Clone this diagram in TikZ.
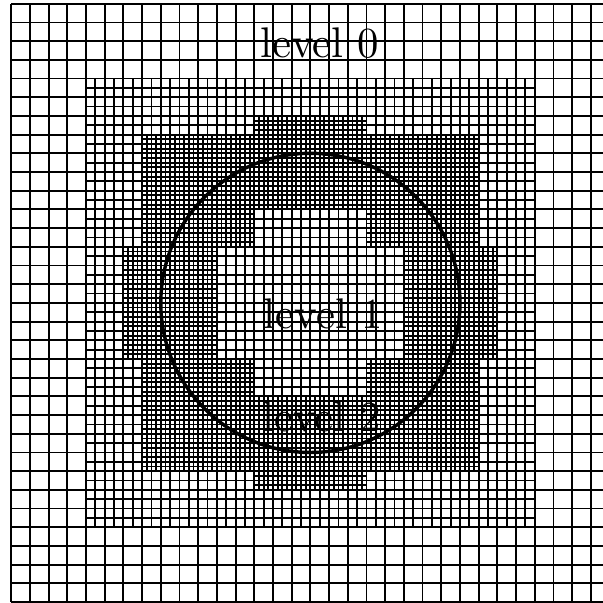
\documentclass[tikz,border=0pt]{standalone}
\usepackage{graphicx}
\usepackage{tikz}
\usetikzlibrary{positioning}

\newcommand{\lvltext}[1]{\scalebox{1.63}{#1}}

\begin{document}
\begin{tikzpicture}[
			x=0.25cm,y=0.25cm,
			mesh/.style={draw=black,line width=0.7pt},
			lvlzero/.style={mesh,step=1},
			lvlone/.style={mesh,step=0.5},
			lvltwo/.style={mesh,step=0.25},
			boundary/.style={draw=black,line width=1.3pt},
			lbl/.style={font=\normalsize,inner sep=0pt}
			]
			\useasboundingbox (-0.6,-0.05) rectangle (31.65,32.2);
			% level 0: whole domain
			\draw[lvlzero] (0,0) grid (32,32);
			% level 1: refined square
			\draw[lvlone] (4,4) grid (28,28);
			% level 2: ring round the circle, the cross in the middle stays at level 1
			\foreach \xa/\ya/\xb/\yb in {13/6/19/7, 7/7/25/11, 7/11/13/13, 19/11/25/13,
				6/13/11/19, 21/13/26/19, 7/19/13/21, 19/19/25/21, 7/21/25/25, 13/25/19/26}
			\draw[lvltwo] (\xa,\ya) grid (\xb,\yb);
			\coordinate (ctr) at (16,16);
			\draw[boundary] (ctr) circle[radius=8];
			\node[lbl] (lzero) at (16.5,29.9) {\lvltext{level 0}};
			\node[lbl] (lone) at (16.7,15.4) {\lvltext{level 1}};
			\node[lbl] (ltwo) at (16.6,9.9) {\lvltext{level 2}};
		\end{tikzpicture}
\end{document}
